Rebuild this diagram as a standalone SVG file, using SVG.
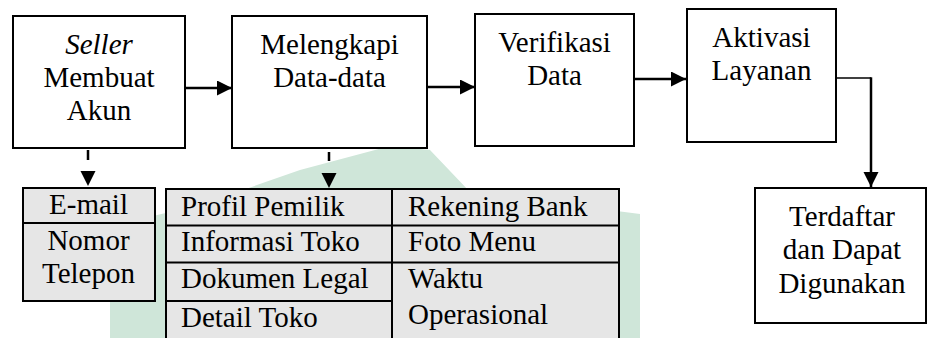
<svg xmlns="http://www.w3.org/2000/svg" width="927" height="338" viewBox="0 0 927 338">
  <defs>
    <marker id="head" markerUnits="userSpaceOnUse" markerWidth="16" markerHeight="16" viewBox="0 0 16 16" refX="15" refY="7.5" orient="auto">
      <path d="M0,0 L15,7.5 L0,15 Z" fill="#000000"/>
    </marker>
  </defs>

  <rect width="927" height="338" fill="#ffffff"/>

  <!-- faint background emblem -->
  <path d="M110,338 L110,226 L200,205 L300,170 L390,146 L430,150 L470,192 L640,214 L640,338 Z" fill="#cfe6d9"/>

  <g id="node-seller">
    <rect x="13" y="16" width="172" height="132" fill="#ffffff" stroke="#000000" stroke-width="2"/>
    <text x="99" y="54" text-anchor="middle" font-family="Liberation Serif" font-size="29" font-style="italic">Seller</text>
    <text x="99" y="87" text-anchor="middle" font-family="Liberation Serif" font-size="29">Membuat</text>
    <text x="99" y="120" text-anchor="middle" font-family="Liberation Serif" font-size="29">Akun</text>
  </g>

  <g id="node-melengkapi">
    <rect x="232" y="16" width="195" height="132" fill="#ffffff" stroke="#000000" stroke-width="2"/>
    <text x="329.5" y="54" text-anchor="middle" font-family="Liberation Serif" font-size="29">Melengkapi</text>
    <text x="329.5" y="87" text-anchor="middle" font-family="Liberation Serif" font-size="29">Data-data</text>
  </g>

  <g id="node-verifikasi">
    <rect x="475" y="14" width="159" height="132" fill="#ffffff" stroke="#000000" stroke-width="2"/>
    <text x="554.5" y="52" text-anchor="middle" font-family="Liberation Serif" font-size="29">Verifikasi</text>
    <text x="554.5" y="85" text-anchor="middle" font-family="Liberation Serif" font-size="29">Data</text>
  </g>

  <g id="node-aktivasi">
    <rect x="687" y="9" width="149" height="133" fill="#ffffff" stroke="#000000" stroke-width="2"/>
    <text x="761.5" y="47" text-anchor="middle" font-family="Liberation Serif" font-size="29">Aktivasi</text>
    <text x="761.5" y="80" text-anchor="middle" font-family="Liberation Serif" font-size="29">Layanan</text>
  </g>

  <g id="node-terdaftar">
    <rect x="755" y="188" width="171" height="135" fill="#ffffff" stroke="#000000" stroke-width="2"/>
    <text x="842" y="226" text-anchor="middle" font-family="Liberation Serif" font-size="29">Terdaftar</text>
    <text x="842" y="259" text-anchor="middle" font-family="Liberation Serif" font-size="29">dan Dapat</text>
    <text x="842" y="293" text-anchor="middle" font-family="Liberation Serif" font-size="29">Digunakan</text>
  </g>

  <g id="node-akun-data">
    <rect x="23" y="188" width="132" height="113" fill="#e6e6e6" stroke="#000000" stroke-width="2"/>
    <line x1="23" y1="223" x2="155" y2="223" stroke="#000000" stroke-width="2"/>
    <text x="88.5" y="214" text-anchor="middle" font-family="Liberation Serif" font-size="29">E-mail</text>
    <text x="88.5" y="250" text-anchor="middle" font-family="Liberation Serif" font-size="29">Nomor</text>
    <text x="88.5" y="283" text-anchor="middle" font-family="Liberation Serif" font-size="29">Telepon</text>
  </g>

  <g id="node-data-list">
    <rect x="166" y="189" width="453" height="160" fill="#e6e6e6" stroke="#000000" stroke-width="2"/>
    <g stroke="#000000" stroke-width="2">
      <line x1="392" y1="189" x2="392" y2="349"/>
      <line x1="166" y1="225.5" x2="619" y2="225.5"/>
      <line x1="166" y1="262.5" x2="619" y2="262.5"/>
      <line x1="166" y1="301" x2="392" y2="301"/>
    </g>
    <text x="181" y="216" font-family="Liberation Serif" font-size="29">Profil Pemilik</text>
    <text x="181" y="251" font-family="Liberation Serif" font-size="29">Informasi Toko</text>
    <text x="181" y="288" font-family="Liberation Serif" font-size="29">Dokumen Legal</text>
    <text x="181" y="326.5" font-family="Liberation Serif" font-size="29">Detail Toko</text>
    <text x="408" y="216" font-family="Liberation Serif" font-size="29">Rekening Bank</text>
    <text x="408" y="251" font-family="Liberation Serif" font-size="29">Foto Menu</text>
    <text x="408" y="288" font-family="Liberation Serif" font-size="29">Waktu</text>
    <text x="408" y="324" font-family="Liberation Serif" font-size="29">Operasional</text>
  </g>

  <g id="connectors" stroke="#000000" stroke-width="2.5" fill="none">
    <line x1="185" y1="88" x2="232" y2="88" marker-end="url(#head)"/>
    <line x1="427" y1="87" x2="475" y2="87" marker-end="url(#head)"/>
    <line x1="634" y1="79" x2="686" y2="79" marker-end="url(#head)"/>
    <line x1="836" y1="78" x2="871" y2="78" stroke-width="1.5"/>
    <line x1="871" y1="77.3" x2="871" y2="187" marker-end="url(#head)"/>
    <path d="M88,148 V186" stroke-dasharray="0 2 10 30" marker-end="url(#head)"/>
    <path d="M329,148 V188" stroke-dasharray="0 4 9 30" marker-end="url(#head)"/>
  </g>
</svg>
